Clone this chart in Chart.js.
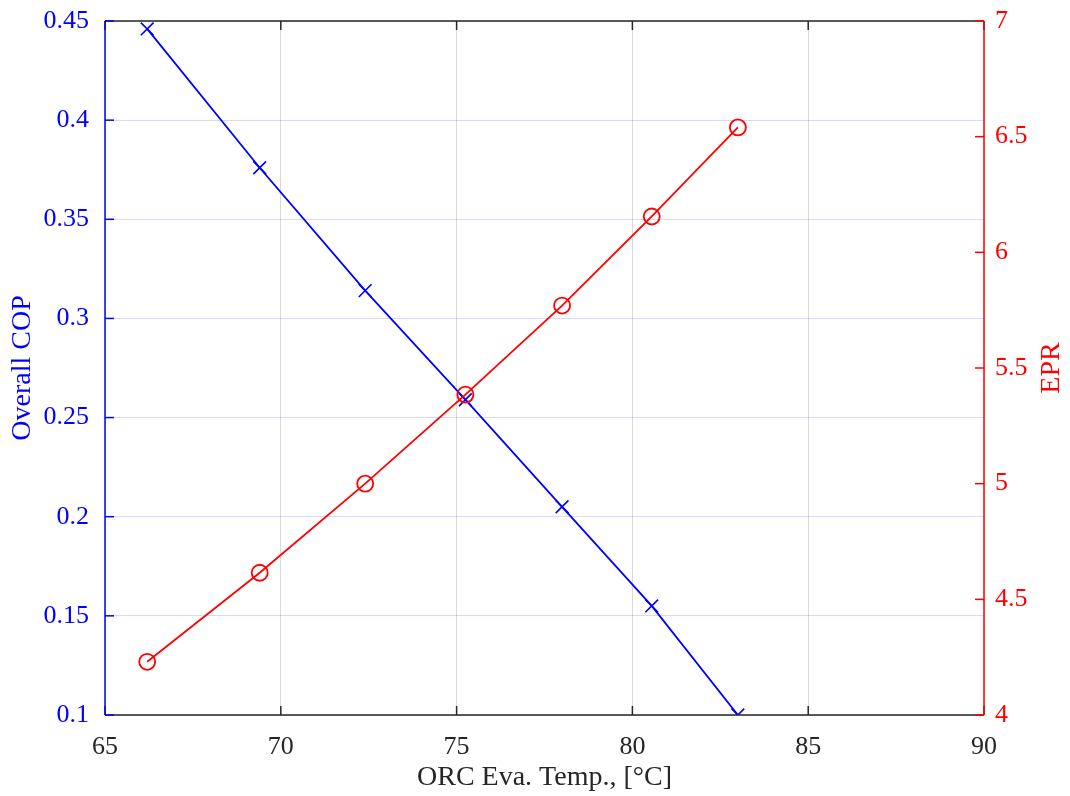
<!DOCTYPE html>
<html lang="en">
<head>
    <meta charset="UTF-8">
    <title>Overall COP and EPR vs ORC evaporation temperature</title>
    <script src="https://cdn.jsdelivr.net/npm/chart.js"></script>
    <style>
        html, body { margin: 0; padding: 0; background: #ffffff; }
        .wrap { position: relative; width: 1070px; height: 796px; }
    </style>
</head>
<body>
    <div class="wrap">
        <canvas id="chart"></canvas>
    </div>
    <script>
        // ORC evaporation temperature [°C]
        const evaTemp = [66.2, 69.4, 72.4, 75.25, 78.0, 80.55, 83.0];
        // Overall COP (left axis)
        const cop = [0.446, 0.376, 0.314, 0.259, 0.205, 0.155, 0.100];
        // EPR (right axis)
        const epr = [4.23, 4.615, 5.0, 5.385, 5.77, 6.155, 6.54];

        const xTicks = [65, 70, 75, 80, 85, 90];
        const copTicks = [0.1, 0.15, 0.2, 0.25, 0.3, 0.35, 0.4, 0.45];
        const eprTicks = [4, 4.5, 5, 5.5, 6, 6.5, 7];

        const FONT = 'Liberation Serif';
        const DARK = '#262626';
        const BLUE = '#0000ff';
        const RED = '#ff0000';

        // draws the box and the inward tick marks, matlab style
        const framePlugin = {
            id: 'frame',
            afterDraw(chart) {
                const { ctx, chartArea: a, scales } = chart;
                const len = 9;
                const line = (x1, y1, x2, y2) => {
                    ctx.beginPath();
                    ctx.moveTo(x1, y1);
                    ctx.lineTo(x2, y2);
                    ctx.stroke();
                };
                ctx.save();
                ctx.lineWidth = 1.5;

                ctx.strokeStyle = DARK;
                line(a.left, a.top, a.right, a.top);
                line(a.left, a.bottom, a.right, a.bottom);
                scales.x.ticks.forEach(t => {
                    const px = scales.x.getPixelForValue(t.value);
                    line(px, a.bottom, px, a.bottom - len);
                    line(px, a.top, px, a.top + len);
                });

                ctx.strokeStyle = BLUE;
                line(a.left, a.top, a.left, a.bottom);
                scales.y.ticks.forEach(t => {
                    const py = scales.y.getPixelForValue(t.value);
                    line(a.left, py, a.left + len, py);
                });

                ctx.strokeStyle = RED;
                line(a.right, a.top, a.right, a.bottom);
                scales.y1.ticks.forEach(t => {
                    const py = scales.y1.getPixelForValue(t.value);
                    line(a.right, py, a.right - len, py);
                });

                // right axis label reads bottom-to-top like the left one
                ctx.translate(chart.width - 18, (a.top + a.bottom) / 2);
                ctx.rotate(-Math.PI / 2);
                ctx.fillStyle = RED;
                ctx.font = '28px "' + FONT + '"';
                ctx.textAlign = 'center';
                ctx.textBaseline = 'middle';
                ctx.fillText('EPR', 0, 0);
                ctx.restore();
            }
        };

        // fixed axis sizes so the plot box sits where it does in the figure
        const fixWidth = w => s => {
            s.width = w;
            s.paddingTop = 0;
            s.paddingBottom = 0;
        };

        const ctx = document.getElementById('chart').getContext('2d');
        new Chart(ctx, {
            type: 'scatter',
            data: {
                datasets: [{
                    label: 'EPR',
                    data: evaTemp.map((t, i) => ({ x: t, y: epr[i] })),
                    yAxisID: 'y1',
                    showLine: true,
                    borderColor: RED,
                    borderWidth: 1.8,
                    pointStyle: 'circle',
                    pointRadius: 8,
                    pointBorderWidth: 1.8,
                    pointBorderColor: RED,
                    pointBackgroundColor: 'rgba(0,0,0,0)',
                    order: 0
                }, {
                    label: 'Overall COP',
                    data: evaTemp.map((t, i) => ({ x: t, y: cop[i] })),
                    yAxisID: 'y',
                    showLine: true,
                    borderColor: BLUE,
                    borderWidth: 1.8,
                    pointStyle: 'crossRot',
                    pointRadius: 9,
                    pointBorderWidth: 1.6,
                    pointBorderColor: BLUE,
                    order: 1
                }]
            },
            options: {
                responsive: true,
                maintainAspectRatio: false,
                animation: false,
                layout: { padding: { top: 21, left: 0, right: 0, bottom: 0 } },
                plugins: {
                    legend: { display: false },
                    tooltip: { enabled: false }
                },
                scales: {
                    x: {
                        type: 'linear',
                        position: 'bottom',
                        min: 65,
                        max: 90,
                        afterBuildTicks: s => { s.ticks = xTicks.map(v => ({ value: v })); },
                        afterFit: s => { s.height = 81; s.paddingLeft = 0; s.paddingRight = 0; },
                        border: { display: false },
                        grid: { color: 'rgba(0,0,0,0.15)', lineWidth: 1, drawTicks: false },
                        ticks: {
                            color: DARK,
                            padding: 17,
                            font: { family: FONT, size: 26 }
                        },
                        title: {
                            display: true,
                            text: 'ORC Eva. Temp., [°C]',
                            color: DARK,
                            padding: { top: 0, bottom: 2 },
                            font: { family: FONT, size: 28 }
                        }
                    },
                    y: {
                        type: 'linear',
                        position: 'left',
                        min: 0.1,
                        max: 0.45,
                        afterBuildTicks: s => { s.ticks = copTicks.map(v => ({ value: v })); },
                        afterFit: fixWidth(105),
                        border: { display: false },
                        grid: { color: 'rgba(0,0,255,0.15)', lineWidth: 1, drawTicks: false },
                        ticks: {
                            color: BLUE,
                            padding: 16,
                            font: { family: FONT, size: 26 },
                            callback: v => String(+v.toFixed(2))
                        },
                        title: {
                            display: true,
                            text: 'Overall COP',
                            color: BLUE,
                            padding: { top: 6, bottom: 0 },
                            font: { family: FONT, size: 28 }
                        }
                    },
                    y1: {
                        type: 'linear',
                        position: 'right',
                        min: 4,
                        max: 7,
                        afterBuildTicks: s => { s.ticks = eprTicks.map(v => ({ value: v })); },
                        afterFit: fixWidth(86),
                        border: { display: false },
                        grid: { display: false, drawTicks: false },
                        ticks: {
                            color: RED,
                            padding: 11,
                            font: { family: FONT, size: 26 },
                            callback: v => String(+v.toFixed(1))
                        },
                        title: { display: false }
                    }
                }
            },
            plugins: [framePlugin]
        });
    </script>
</body>
</html>
